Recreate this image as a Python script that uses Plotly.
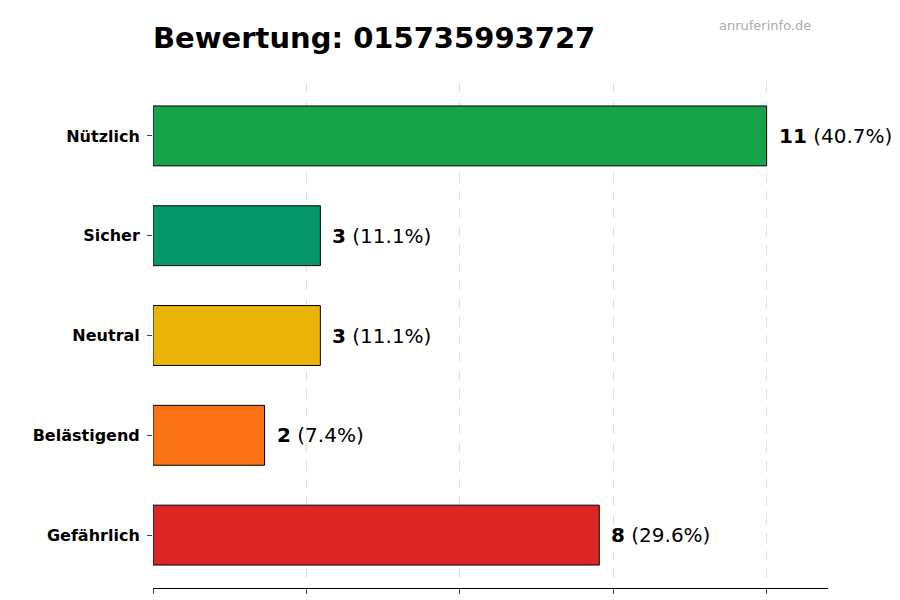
import plotly.graph_objects as go

categories = ["Gefährlich", "Belästigend", "Neutral", "Sicher", "Nützlich"]
values = [8, 2, 3, 3, 11]
colors = ["#dc2626", "#f97316", "#eab308", "#059669", "#16a34a"]
total = sum(values)
tickvals = [0, 2.75, 5.5, 8.25, 11]

fig = go.Figure(go.Bar(
    y=categories, x=values, orientation="h", width=0.6,
    marker=dict(color=colors, line=dict(color="black", width=1)),
    hoverinfo="skip"))

for c, v in zip(categories, values):
    fig.add_annotation(x=v, y=c, text=f"<b>{v}</b> ({v/total*100:.1f}%)",
                       showarrow=False, xanchor="left", xshift=10,
                       font=dict(size=20, color="black"))

fig.add_annotation(x=880/900, y=18/600, xref="paper", yref="paper", xanchor="right", yanchor="middle",
                   text="anruferinfo.de", showarrow=False,
                   font=dict(size=13, color="#aaaaaa"))
fig.layout.annotations[-1].update(xref="paper", yref="paper")

fig.update_layout(
    width=900, height=600, plot_bgcolor="white", paper_bgcolor="white",
    margin=dict(l=145, r=80, t=75, b=20, autoexpand=False),
    font=dict(family="DejaVu Sans", color="black"),
    title=dict(text="<b>Bewertung: 015735993727</b>", x=145/900, xanchor="left",
               y=0.95, yanchor="middle", font=dict(size=29)),
    showlegend=False,
    xaxis=dict(range=[0, 12.1], tickvals=tickvals, showticklabels=False,
               showgrid=True, gridcolor="#dddddd", griddash="dash",
               showline=True, linecolor="black", ticks="outside", ticklen=5,
               zeroline=False),
    yaxis=dict(range=[-0.53, 4.53], categoryorder="array", categoryarray=categories,
               ticks="outside", ticklen=5, showline=False, showgrid=False,
               tickfont=dict(size=16, family="DejaVu Sans"), ticklabelstandoff=4),
)
# watermark positioned in paper coords from the top
fig.layout.annotations[-1].update(y=1 + (75 - 18) / 505, yanchor="middle")
fig.update_yaxes(tickprefix="<b>", ticksuffix="</b>")
fig.write_html("out.html")
